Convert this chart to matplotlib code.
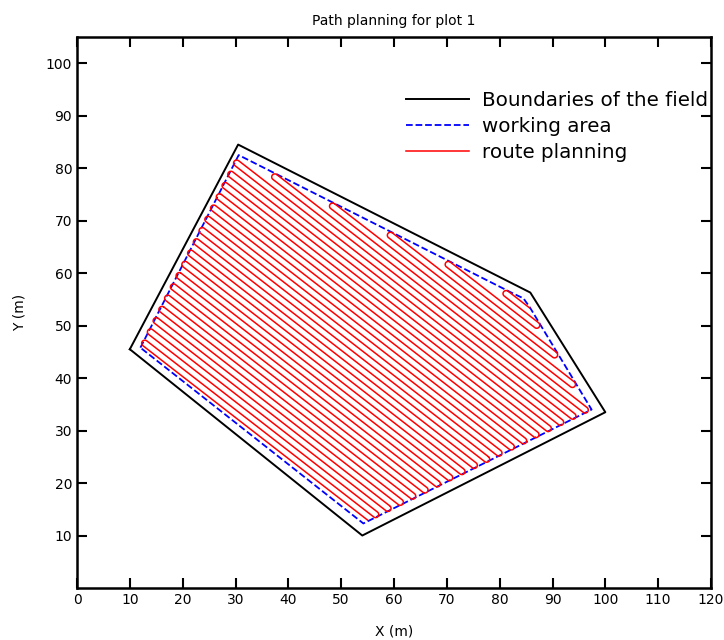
import numpy as np
import matplotlib.pyplot as plt

# Feldgrenze (schwarz) und Arbeitsbereich (blau)
field_x = [10.0, 30.5, 85.8, 100.0, 54.0, 10.0]
field_y = [45.5, 84.5, 56.3, 33.5, 10.0, 45.5]
work_x = [12.0, 30.6, 82.6, 84.5, 85.7, 97.4, 54.2, 12.0]
work_y = [45.8, 82.5, 56.1, 55.2, 53.5, 34.0, 12.3, 45.8]

# Parameter der Spuren
row_spacing = 1.18     # Abstand der Spuren (m)
heading_deg = -38.0    # Fahrtrichtung der Spuren
first_offset = 44.06   # Lage der ersten Spur (Normalenabstand)
end_margin = 0.25      # Abstand der Wendepunkte zum Rand (m)

x_ticks = list(range(0, 121, 10))
y_ticks = list(range(10, 101, 10))

u = np.array([np.cos(np.radians(heading_deg)), np.sin(np.radians(heading_deg))])
n = np.array([-u[1], u[0]])
poly = np.column_stack([work_x, work_y])
r = row_spacing / 2


def clip_row(c):
    # Schnittpunkte der Spur mit dem Arbeitsbereich (konvex)
    ts = []
    for A, B in zip(poly[:-1], poly[1:]):
        a, b = A @ n, B @ n
        if a != b and (a - c) * (b - c) <= 0:
            P = A + (c - a) / (b - a) * (B - A)
            ts.append(P @ u)
    if len(ts) < 2:
        return None
    return min(ts) + end_margin, max(ts) - end_margin


rows = []
c = first_offset
while True:
    res = clip_row(c)
    if res is None or res[1] <= res[0]:
        break
    rows.append([c, res[0], res[1]])
    c += row_spacing

# Wendungen: abwechselnd links und rechts (Start unten rechts)
for i in range(len(rows) - 1):
    if i % 2 == 0:
        tt = max(rows[i][1], rows[i + 1][1])
        rows[i][1] = tt
        rows[i + 1][1] = tt
    else:
        tt = min(rows[i][2], rows[i + 1][2])
        rows[i][2] = tt
        rows[i + 1][2] = tt

path = []
for i, (c, t0, t1) in enumerate(rows):
    if i % 2 == 0:
        seq = [t1, t0]
        side = -1
    else:
        seq = [t0, t1]
        side = 1
    for t in seq:
        path.append(c * n + t * u)
    if i < len(rows) - 1:
        center = (c + row_spacing / 2) * n + seq[1] * u
        phi = np.linspace(-np.pi / 2, np.pi / 2, 20)
        for p in phi:
            path.append(center + r * (np.cos(p) * side * u + np.sin(p) * n))
path = np.array(path)

fig = plt.figure(figsize=(7.24, 6.4), dpi=100)
ax = fig.add_axes([77 / 724, 52 / 640, 634 / 724, 551 / 640])

ax.plot(field_x, field_y, color='black', lw=1.4, label='Boundaries of the field')
ax.plot(work_x, work_y, color='blue', lw=1.3, ls='--', label='working area')
ax.plot(path[:, 0], path[:, 1], color='red', lw=1.1, label='route planning')

ax.set_xlim(0, 120)
ax.set_ylim(0, 105)
ax.set_xticks(x_ticks)
ax.set_yticks(y_ticks)
ax.tick_params(direction='in', top=True, right=True, length=7, width=1.5, labelsize=10)
for s in ax.spines.values():
    s.set_linewidth(1.8)

ax.set_title('Path planning for plot 1', fontsize=10, pad=9)
ax.set_xlabel('X (m)', fontsize=10, labelpad=13)
ax.set_ylabel('Y (m)', fontsize=10, labelpad=14)

ax.legend(loc='upper right', bbox_to_anchor=(1.008, 0.916), borderaxespad=0,
          frameon=False, fontsize=14.3, handlelength=3.2, handletextpad=0.65,
          labelspacing=0.35)

fig.savefig('out.png', dpi=100)
